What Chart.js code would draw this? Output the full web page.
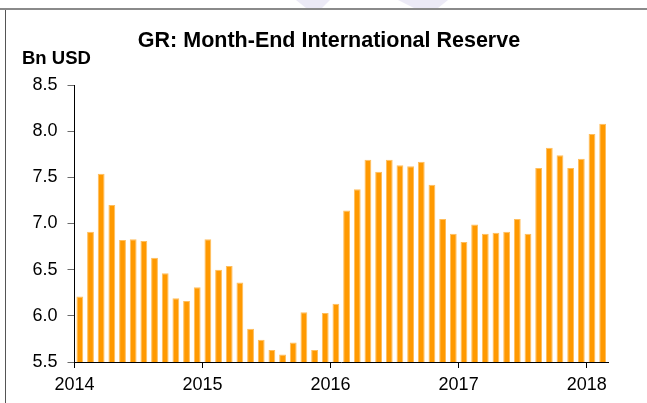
<!DOCTYPE html>
<html>
<head>
<meta charset="utf-8">
<script src="https://cdn.jsdelivr.net/npm/chart.js@4.4.1/dist/chart.umd.min.js"></script>
<style>
  html, body { margin: 0; padding: 0; background: #ffffff; }
  #wrap { width: 647px; height: 403px; position: relative; }
</style>
</head>
<body>
<div id="wrap"><canvas id="c" width="647" height="403"></canvas></div>
<script>
// ---- data ----
const chartTitle = "GR: Month-End International Reserve";
const unitLabel = "Bn USD";
const startYear = 2014;
// monthly values, Jan 2014 .. Feb 2018 (Bn USD)
const values = [
  6.21, 6.91, 7.54, 7.20, 6.82, 6.83, 6.81, 6.63, 6.46, 6.19, 6.16, 6.31,
  6.83, 6.50, 6.54, 6.36, 5.86, 5.74, 5.63, 5.58, 5.71, 6.04, 5.63, 6.03,
  6.13, 7.14, 7.37, 7.69, 7.56, 7.69, 7.63, 7.62, 7.67, 7.42, 7.05, 6.89,
  6.80, 6.99, 6.89, 6.90, 6.91, 7.05, 6.89, 7.60, 7.82, 7.74, 7.60, 7.70,
  7.97, 8.08
];
const yearLabels = ["2014", "2015", "2016", "2017", "2018"];
const yMin = 5.5, yMax = 8.5, yStep = 0.5;

// ---- build chart ----
const points = values.map((v, i) => ({ x: i + 0.5, y: v }));

const framePlugin = {
  id: 'frame',
  beforeDraw(chart) {
    const ctx = chart.ctx;
    ctx.save();
    ctx.fillStyle = '#ffffff';
    ctx.fillRect(0, 0, chart.width, chart.height);
    // faint watermark above the top rule
    ctx.fillStyle = '#ECEAF6';
    ctx.beginPath();
    ctx.moveTo(296, 0); ctx.lineTo(330, 0); ctx.lineTo(322, 8); ctx.lineTo(306, 8); ctx.closePath(); ctx.fill();
    ctx.beginPath();
    ctx.moveTo(398, 0); ctx.lineTo(448, 0); ctx.lineTo(438, 8); ctx.lineTo(414, 8); ctx.closePath(); ctx.fill();
    // top rule
    ctx.fillStyle = '#8a8a8a';
    ctx.fillRect(0, 8, chart.width, 2);
    // left rule
    ctx.fillStyle = '#555555';
    ctx.fillRect(5, 10, 1, chart.height - 10);
    ctx.restore();
  },
  afterDraw(chart) {
    const ctx = chart.ctx;
    ctx.save();
    ctx.fillStyle = '#000000';
    ctx.textBaseline = 'alphabetic';
    ctx.font = 'bold 21.5px "Liberation Sans", Arial, sans-serif';
    ctx.textAlign = 'center';
    ctx.fillText(chartTitle, 329, 47);
    ctx.font = 'bold 18.5px "Liberation Sans", Arial, sans-serif';
    ctx.textAlign = 'left';
    ctx.fillText(unitLabel, 22, 64);
    ctx.restore();
  }
};

new Chart(document.getElementById('c'), {
  type: 'bar',
  data: {
    datasets: [{
      data: points,
      backgroundColor: '#FF9900',
      borderColor: '#FFBE5C',
      borderWidth: 1,
      borderSkipped: 'bottom',
      barPercentage: 0.64,
      categoryPercentage: 1.0
    }]
  },
  options: {
    responsive: false,
    animation: false,
    layout: { padding: { left: 0, right: 39, top: 85, bottom: 0 } },
    plugins: {
      legend: { display: false },
      tooltip: { enabled: false },
      title: { display: false }
    },
    scales: {
      x: {
        type: 'linear',
        min: 0,
        max: values.length,
        offset: false,
        afterBuildTicks(scale) {
          scale.ticks = yearLabels.map((_, k) => ({ value: k * 12 }));
        },
        afterFit(scale) { scale.height = 41; },
        ticks: {
          autoSkip: false,
          maxRotation: 0,
          color: '#000000',
          font: { family: '"Liberation Sans", Arial, sans-serif', size: 18 },
          padding: 6,
          callback: (v, i) => yearLabels[i]
        },
        grid: { offset: false, drawOnChartArea: false, drawTicks: true, tickLength: 6, tickColor: '#000000' },
        border: { display: true, color: '#000000', width: 1 }
      },
      y: {
        min: yMin,
        max: yMax,
        afterFit(scale) { scale.width = 74.5; },
        ticks: {
          stepSize: yStep,
          color: '#000000',
          font: { family: '"Liberation Sans", Arial, sans-serif', size: 18 },
          padding: 10,
          callback: (v) => Number(v).toFixed(1)
        },
        grid: { drawOnChartArea: false, drawTicks: true, tickLength: 7, tickColor: '#6b6b6b' },
        border: { display: true, color: '#000000', width: 1 }
      }
    }
  },
  plugins: [framePlugin]
});
</script>
</body>
</html>
